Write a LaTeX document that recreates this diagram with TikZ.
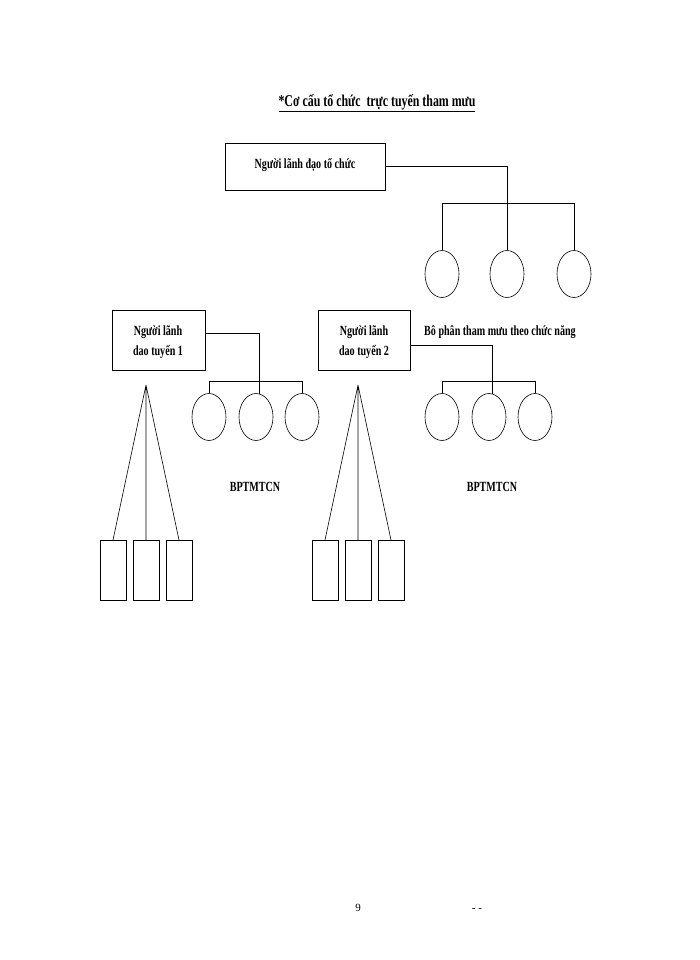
\documentclass[tikz,border=0pt]{standalone}
\usepackage{fontspec}
\setmainfont{Liberation Serif}
\usepackage{graphicx}
\usetikzlibrary{shapes.geometric}
\begin{document}
\begin{tikzpicture}[x=1pt,y=-1pt,
  ell/.style={draw,ellipse,line width=0.6pt,minimum width=34pt,minimum height=47pt,inner sep=0pt},
  con/.style={line width=0.6pt},
  txt/.style={font=\bfseries\fontsize{14}{18}\selectfont,align=center,inner sep=0pt}]
\useasboundingbox (0,0) rectangle (700,960);
\node[txt,font=\bfseries\fontsize{16.5}{20}\selectfont] (title) at (377,103) {\underline{\scalebox{0.72}[1]{*Cơ cấu tổ chức\ \ trực tuyến tham mưu}}};
% top
\draw[line width=0.6pt] (225,143) rectangle (385,190);
\node[txt] (top) at (305,165) {\scalebox{0.72}[1]{Người lãnh đạo tổ chức}};
\coordinate (topR) at (385,166);
\node[ell] (e1) at (442,274) {};
\node[ell] (e2) at (507,274) {};
\node[ell] (e3) at (574,274) {};
\draw[con] (topR) -| (e2.north);
\draw[con] (e1.north) -- (442,203) -- (574,203) -- (e3.north);
\node[txt] (lbl) at (500,332) {\scalebox{0.72}[1]{Bô phân tham mưu theo chức năng}};
% line 1
\draw[line width=0.6pt] (112,310) rectangle (205,370);
\node[txt,align=center] (l1) at (158,342) {\scalebox{0.72}[1]{Người lãnh}\\[2pt]\scalebox{0.72}[1]{dao tuyến 1}};
\node[ell] (a1) at (209,417) {};
\node[ell] (a2) at (256,417) {};
\node[ell] (a3) at (302,417) {};
\draw[con] (205,333) -- (259,333) -- (259,394);
\draw[con] (a1.north) -- (209,381) -- (302,381) -- (a3.north);
\node[txt] (b1) at (255,487) {\scalebox{0.72}[1]{BPTMTCN}};
\coordinate (ap1) at (146,385);
\draw[line width=0.6pt] (100,540) rectangle (126,600) (133,540) rectangle (159,600) (166,540) rectangle (192,600);
\draw[con] (ap1) -- (113,540) (ap1) -- (146,540) (ap1) -- (179,540);
% line 2
\draw[line width=0.6pt] (318,310) rectangle (410,370);
\node[txt,align=center] (l2) at (364,342) {\scalebox{0.72}[1]{Người lãnh}\\[2pt]\scalebox{0.72}[1]{dao tuyến 2}};
\node[ell] (c1) at (442,417) {};
\node[ell] (c2) at (489,417) {};
\node[ell] (c3) at (535,417) {};
\draw[con] (410,345) -- (492,345) -- (492,394);
\draw[con] (c1.north) -- (442,381) -- (535,381) -- (c3.north);
\node[txt] (b2) at (492,487) {\scalebox{0.72}[1]{BPTMTCN}};
\coordinate (ap2) at (358,385);
\draw[line width=0.6pt] (312,540) rectangle (338,600) (345,540) rectangle (371,600) (378,540) rectangle (404,600);
\draw[con] (ap2) -- (325,540) (ap2) -- (358,540) (ap2) -- (391,540);
\node[font=\fontsize{11}{13}\selectfont] (pg) at (358,908) {9};
\node[font=\fontsize{11}{13}\selectfont] (dd) at (477,910) {- -};
\end{tikzpicture}
\end{document}
